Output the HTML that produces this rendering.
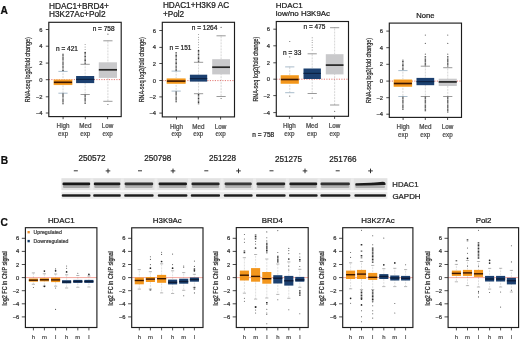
<!DOCTYPE html>
<html><head><meta charset="utf-8"><style>
html,body{margin:0;padding:0;background:#fff;}
body{width:520px;height:341px;overflow:hidden;}
svg{display:block;font-family:"Liberation Sans", sans-serif;}
text{stroke-width:0.24px;stroke-linejoin:round;}
</style></head><body>
<svg width="520" height="341" viewBox="0 0 520 341">
<defs><filter id="soft" x="0" y="0" width="100%" height="100%"><feGaussianBlur stdDeviation="0.3"/></filter></defs>
<g filter="url(#soft)">
<rect x="0" y="0" width="520" height="341" fill="#fff"/>
<text x="0.60" y="13.60" font-size="10.2" text-anchor="start" fill="#111" stroke="#111" font-weight="bold" >A</text>
<text x="0.80" y="164.30" font-size="10.2" text-anchor="start" fill="#111" stroke="#111" font-weight="bold" >B</text>
<text x="0.60" y="225.60" font-size="10.2" text-anchor="start" fill="#111" stroke="#111" font-weight="bold" >C</text>
<text x="49.00" y="8.50" font-size="8.3" text-anchor="start" fill="#1a1a1a" stroke="#1a1a1a" font-weight="normal" >HDAC1+BRD4+</text>
<text x="49.00" y="16.90" font-size="8.3" text-anchor="start" fill="#1a1a1a" stroke="#1a1a1a" font-weight="normal" >H3K27Ac+Pol2</text>
<text x="0" y="0" font-size="7.0" text-anchor="middle" fill="#2a2a2a" stroke="#2a2a2a" transform="translate(30.20,69.65) rotate(-90)" textLength="65" lengthAdjust="spacingAndGlyphs">RNA-seq log2(fold change)</text>
<line x1="45.80" y1="29.50" x2="48.80" y2="29.50" stroke="#1e1e1e" stroke-width="0.8"/>
<text x="42.60" y="31.58" font-size="5.8" text-anchor="end" fill="#333" stroke="#333" font-weight="normal" >6</text>
<line x1="45.80" y1="46.20" x2="48.80" y2="46.20" stroke="#1e1e1e" stroke-width="0.8"/>
<text x="42.60" y="48.28" font-size="5.8" text-anchor="end" fill="#333" stroke="#333" font-weight="normal" >4</text>
<line x1="45.80" y1="63.10" x2="48.80" y2="63.10" stroke="#1e1e1e" stroke-width="0.8"/>
<text x="42.60" y="65.18" font-size="5.8" text-anchor="end" fill="#333" stroke="#333" font-weight="normal" >2</text>
<line x1="45.80" y1="79.70" x2="48.80" y2="79.70" stroke="#1e1e1e" stroke-width="0.8"/>
<text x="42.60" y="81.78" font-size="5.8" text-anchor="end" fill="#333" stroke="#333" font-weight="normal" >0</text>
<line x1="45.80" y1="96.80" x2="48.80" y2="96.80" stroke="#1e1e1e" stroke-width="0.8"/>
<text x="42.60" y="98.88" font-size="5.8" text-anchor="end" fill="#333" stroke="#333" font-weight="normal" >−2</text>
<line x1="45.80" y1="113.00" x2="48.80" y2="113.00" stroke="#1e1e1e" stroke-width="0.8"/>
<text x="42.60" y="115.08" font-size="5.8" text-anchor="end" fill="#333" stroke="#333" font-weight="normal" >−4</text>
<line x1="63.10" y1="116.60" x2="63.10" y2="119.20" stroke="#1e1e1e" stroke-width="0.8"/>
<line x1="85.30" y1="116.60" x2="85.30" y2="119.20" stroke="#1e1e1e" stroke-width="0.8"/>
<line x1="107.60" y1="116.60" x2="107.60" y2="119.20" stroke="#1e1e1e" stroke-width="0.8"/>
<text x="63.10" y="128.30" font-size="6.3" text-anchor="middle" fill="#4a4a4a" stroke="#4a4a4a" font-weight="normal" >High</text>
<text x="63.10" y="135.80" font-size="6.3" text-anchor="middle" fill="#4a4a4a" stroke="#4a4a4a" font-weight="normal" >exp</text>
<text x="85.30" y="128.30" font-size="6.3" text-anchor="middle" fill="#4a4a4a" stroke="#4a4a4a" font-weight="normal" >Med</text>
<text x="85.30" y="135.80" font-size="6.3" text-anchor="middle" fill="#4a4a4a" stroke="#4a4a4a" font-weight="normal" >exp</text>
<text x="107.60" y="128.30" font-size="6.3" text-anchor="middle" fill="#4a4a4a" stroke="#4a4a4a" font-weight="normal" >Low</text>
<text x="107.60" y="135.80" font-size="6.3" text-anchor="middle" fill="#4a4a4a" stroke="#4a4a4a" font-weight="normal" >exp</text>
<line x1="48.80" y1="79.60" x2="121.20" y2="79.60" stroke="#d9403a" stroke-width="0.7" stroke-dasharray="1.2 1.3"/>
<line x1="63.00" y1="71.40" x2="63.00" y2="79.80" stroke="#777" stroke-width="0.5" stroke-dasharray="0.6 0.9"/>
<line x1="63.00" y1="84.80" x2="63.00" y2="93.20" stroke="#777" stroke-width="0.5" stroke-dasharray="0.6 0.9"/>
<line x1="58.40" y1="71.40" x2="67.60" y2="71.40" stroke="#6f8ea8" stroke-width="0.6"/>
<line x1="58.40" y1="93.20" x2="67.60" y2="93.20" stroke="#6f8ea8" stroke-width="0.6"/>
<line x1="63.00" y1="53.80" x2="63.00" y2="71.00" stroke="#262626" stroke-width="1.45" stroke-dasharray="0.9 0.45" stroke-opacity="0.9"/>
<line x1="63.00" y1="93.50" x2="63.00" y2="104.50" stroke="#262626" stroke-width="1.45" stroke-dasharray="0.9 0.45" stroke-opacity="0.9"/>
<rect x="53.60" y="79.50" width="18.80" height="5.60" fill="#f9c060" />
<rect x="53.90" y="79.80" width="18.20" height="5.00" fill="#f3961c" />
<rect x="53.90" y="81.50" width="18.20" height="1.60" fill="#3b1604" />
<line x1="85.15" y1="64.30" x2="85.15" y2="76.00" stroke="#777" stroke-width="0.5" stroke-dasharray="0.6 0.9"/>
<line x1="85.15" y1="83.10" x2="85.15" y2="94.50" stroke="#777" stroke-width="0.5" stroke-dasharray="0.6 0.9"/>
<line x1="80.55" y1="64.30" x2="89.75" y2="64.30" stroke="#555" stroke-width="0.6"/>
<line x1="80.55" y1="94.50" x2="89.75" y2="94.50" stroke="#555" stroke-width="0.6"/>
<circle cx="85.15" cy="44.60" r="0.5" fill="#777" fill-opacity="0.9"/>
<circle cx="85.15" cy="47.07" r="0.5" fill="#777" fill-opacity="0.9"/>
<circle cx="85.15" cy="49.53" r="0.5" fill="#777" fill-opacity="0.9"/>
<circle cx="85.15" cy="52.00" r="0.5" fill="#777" fill-opacity="0.9"/>
<line x1="85.15" y1="52.00" x2="85.15" y2="64.00" stroke="#262626" stroke-width="1.45" stroke-dasharray="0.9 0.45" stroke-opacity="0.9"/>
<line x1="85.15" y1="94.80" x2="85.15" y2="103.70" stroke="#262626" stroke-width="1.45" stroke-dasharray="0.9 0.45" stroke-opacity="0.9"/>
<rect x="76.10" y="76.00" width="18.10" height="7.10" fill="#1b416f" />
<rect x="76.10" y="78.80" width="18.10" height="1.20" fill="#0f2445" />
<line x1="107.90" y1="40.80" x2="107.90" y2="62.30" stroke="#777" stroke-width="0.5" stroke-dasharray="0.6 0.9"/>
<line x1="107.90" y1="77.90" x2="107.90" y2="101.30" stroke="#777" stroke-width="0.5" stroke-dasharray="0.6 0.9"/>
<line x1="103.30" y1="40.80" x2="112.50" y2="40.80" stroke="#555" stroke-width="0.6"/>
<line x1="103.30" y1="101.30" x2="112.50" y2="101.30" stroke="#555" stroke-width="0.6"/>
<circle cx="107.90" cy="34.20" r="0.6" fill="#666"/>
<circle cx="107.90" cy="104.50" r="0.6" fill="#666"/>
<rect x="98.80" y="62.30" width="18.20" height="15.60" fill="#c9c9cb" />
<rect x="98.80" y="68.95" width="18.20" height="1.70" fill="#262626" />
<text x="56.10" y="51.00" font-size="6.5" text-anchor="start" fill="#222" stroke="#222" font-weight="normal" >n = 421</text>
<text x="92.70" y="30.50" font-size="6.5" text-anchor="start" fill="#222" stroke="#222" font-weight="normal" >n = 758</text>
<rect x="48.80" y="22.30" width="72.40" height="94.30" fill="none" stroke="#1e1e1e" stroke-width="1.15"/>
<text x="162.90" y="8.20" font-size="8.2" text-anchor="start" fill="#1a1a1a" stroke="#1a1a1a" font-weight="normal" >HDAC1+H3K9 AC</text>
<text x="162.90" y="16.90" font-size="8.2" text-anchor="start" fill="#1a1a1a" stroke="#1a1a1a" font-weight="normal" >+Pol2</text>
<text x="0" y="0" font-size="7.0" text-anchor="middle" fill="#2a2a2a" stroke="#2a2a2a" transform="translate(143.70,69.80) rotate(-90)" textLength="65" lengthAdjust="spacingAndGlyphs">RNA-seq log2(fold change)</text>
<line x1="159.30" y1="30.50" x2="162.30" y2="30.50" stroke="#1e1e1e" stroke-width="0.8"/>
<text x="156.10" y="32.58" font-size="5.8" text-anchor="end" fill="#333" stroke="#333" font-weight="normal" >6</text>
<line x1="159.30" y1="47.40" x2="162.30" y2="47.40" stroke="#1e1e1e" stroke-width="0.8"/>
<text x="156.10" y="49.48" font-size="5.8" text-anchor="end" fill="#333" stroke="#333" font-weight="normal" >4</text>
<line x1="159.30" y1="63.50" x2="162.30" y2="63.50" stroke="#1e1e1e" stroke-width="0.8"/>
<text x="156.10" y="65.58" font-size="5.8" text-anchor="end" fill="#333" stroke="#333" font-weight="normal" >2</text>
<line x1="159.30" y1="80.50" x2="162.30" y2="80.50" stroke="#1e1e1e" stroke-width="0.8"/>
<text x="156.10" y="82.58" font-size="5.8" text-anchor="end" fill="#333" stroke="#333" font-weight="normal" >0</text>
<line x1="159.30" y1="96.90" x2="162.30" y2="96.90" stroke="#1e1e1e" stroke-width="0.8"/>
<text x="156.10" y="98.98" font-size="5.8" text-anchor="end" fill="#333" stroke="#333" font-weight="normal" >−2</text>
<line x1="159.30" y1="113.10" x2="162.30" y2="113.10" stroke="#1e1e1e" stroke-width="0.8"/>
<text x="156.10" y="115.18" font-size="5.8" text-anchor="end" fill="#333" stroke="#333" font-weight="normal" >−4</text>
<line x1="176.50" y1="116.90" x2="176.50" y2="119.50" stroke="#1e1e1e" stroke-width="0.8"/>
<line x1="198.30" y1="116.90" x2="198.30" y2="119.50" stroke="#1e1e1e" stroke-width="0.8"/>
<line x1="220.60" y1="116.90" x2="220.60" y2="119.50" stroke="#1e1e1e" stroke-width="0.8"/>
<text x="176.50" y="128.60" font-size="6.3" text-anchor="middle" fill="#4a4a4a" stroke="#4a4a4a" font-weight="normal" >High</text>
<text x="176.50" y="136.10" font-size="6.3" text-anchor="middle" fill="#4a4a4a" stroke="#4a4a4a" font-weight="normal" >exp</text>
<text x="198.30" y="128.60" font-size="6.3" text-anchor="middle" fill="#4a4a4a" stroke="#4a4a4a" font-weight="normal" >Med</text>
<text x="198.30" y="136.10" font-size="6.3" text-anchor="middle" fill="#4a4a4a" stroke="#4a4a4a" font-weight="normal" >exp</text>
<text x="220.60" y="128.60" font-size="6.3" text-anchor="middle" fill="#4a4a4a" stroke="#4a4a4a" font-weight="normal" >Low</text>
<text x="220.60" y="136.10" font-size="6.3" text-anchor="middle" fill="#4a4a4a" stroke="#4a4a4a" font-weight="normal" >exp</text>
<line x1="162.30" y1="80.60" x2="234.50" y2="80.60" stroke="#d9403a" stroke-width="0.7" stroke-dasharray="1.2 1.3"/>
<line x1="176.15" y1="71.10" x2="176.15" y2="78.70" stroke="#777" stroke-width="0.5" stroke-dasharray="0.6 0.9"/>
<line x1="176.15" y1="83.50" x2="176.15" y2="91.10" stroke="#777" stroke-width="0.5" stroke-dasharray="0.6 0.9"/>
<line x1="171.55" y1="71.10" x2="180.75" y2="71.10" stroke="#6f8ea8" stroke-width="0.6"/>
<line x1="171.55" y1="91.10" x2="180.75" y2="91.10" stroke="#6f8ea8" stroke-width="0.6"/>
<line x1="176.15" y1="52.30" x2="176.15" y2="71.00" stroke="#262626" stroke-width="1.45" stroke-dasharray="0.9 0.45" stroke-opacity="0.9"/>
<line x1="176.15" y1="91.50" x2="176.15" y2="102.50" stroke="#262626" stroke-width="1.45" stroke-dasharray="0.9 0.45" stroke-opacity="0.9"/>
<rect x="166.60" y="78.40" width="19.10" height="5.40" fill="#f9c060" />
<rect x="166.90" y="78.70" width="18.50" height="4.80" fill="#f3961c" />
<rect x="166.90" y="80.30" width="18.50" height="1.60" fill="#3b1604" />
<line x1="198.55" y1="62.30" x2="198.55" y2="74.70" stroke="#777" stroke-width="0.5" stroke-dasharray="0.6 0.9"/>
<line x1="198.55" y1="81.60" x2="198.55" y2="93.70" stroke="#777" stroke-width="0.5" stroke-dasharray="0.6 0.9"/>
<line x1="193.95" y1="62.30" x2="203.15" y2="62.30" stroke="#555" stroke-width="0.6"/>
<line x1="193.95" y1="93.70" x2="203.15" y2="93.70" stroke="#555" stroke-width="0.6"/>
<circle cx="198.55" cy="34.60" r="0.5" fill="#777" fill-opacity="0.9"/>
<circle cx="198.55" cy="37.17" r="0.5" fill="#777" fill-opacity="0.9"/>
<circle cx="198.55" cy="39.73" r="0.5" fill="#777" fill-opacity="0.9"/>
<circle cx="198.55" cy="42.30" r="0.5" fill="#777" fill-opacity="0.9"/>
<circle cx="198.55" cy="44.87" r="0.5" fill="#777" fill-opacity="0.9"/>
<circle cx="198.55" cy="47.43" r="0.5" fill="#777" fill-opacity="0.9"/>
<circle cx="198.55" cy="50.00" r="0.5" fill="#777" fill-opacity="0.9"/>
<line x1="198.55" y1="50.00" x2="198.55" y2="62.00" stroke="#262626" stroke-width="1.45" stroke-dasharray="0.9 0.45" stroke-opacity="0.9"/>
<line x1="198.55" y1="94.00" x2="198.55" y2="104.50" stroke="#262626" stroke-width="1.45" stroke-dasharray="0.9 0.45" stroke-opacity="0.9"/>
<rect x="189.90" y="74.70" width="17.30" height="6.90" fill="#1b416f" />
<rect x="189.90" y="78.00" width="17.30" height="1.20" fill="#0f2445" />
<line x1="221.10" y1="35.80" x2="221.10" y2="59.20" stroke="#777" stroke-width="0.5" stroke-dasharray="0.6 0.9"/>
<line x1="221.10" y1="74.40" x2="221.10" y2="96.50" stroke="#777" stroke-width="0.5" stroke-dasharray="0.6 0.9"/>
<line x1="216.50" y1="35.80" x2="225.70" y2="35.80" stroke="#555" stroke-width="0.6"/>
<line x1="216.50" y1="96.50" x2="225.70" y2="96.50" stroke="#555" stroke-width="0.6"/>
<circle cx="221.10" cy="27.40" r="0.6" fill="#666"/>
<circle cx="221.10" cy="98.50" r="0.6" fill="#666"/>
<rect x="212.20" y="59.20" width="17.80" height="15.20" fill="#c9c9cb" />
<rect x="212.20" y="66.35" width="17.80" height="1.70" fill="#262626" />
<text x="169.50" y="49.90" font-size="6.5" text-anchor="start" fill="#222" stroke="#222" font-weight="normal" >n = 151</text>
<text x="191.80" y="30.20" font-size="6.5" text-anchor="start" fill="#222" stroke="#222" font-weight="normal" >n = 1264</text>
<rect x="162.30" y="22.30" width="72.20" height="94.60" fill="none" stroke="#1e1e1e" stroke-width="1.15"/>
<text x="275.80" y="8.00" font-size="7.95" text-anchor="start" fill="#1a1a1a" stroke="#1a1a1a" font-weight="normal" >HDAC1</text>
<text x="275.80" y="16.30" font-size="7.95" text-anchor="start" fill="#1a1a1a" stroke="#1a1a1a" font-weight="normal" >low/no H3K9Ac</text>
<text x="0" y="0" font-size="7.0" text-anchor="middle" fill="#2a2a2a" stroke="#2a2a2a" transform="translate(257.70,69.10) rotate(-90)" textLength="65" lengthAdjust="spacingAndGlyphs">RNA-seq log2(fold change)</text>
<line x1="273.30" y1="29.20" x2="276.30" y2="29.20" stroke="#1e1e1e" stroke-width="0.8"/>
<text x="270.10" y="31.28" font-size="5.8" text-anchor="end" fill="#333" stroke="#333" font-weight="normal" >6</text>
<line x1="273.30" y1="45.80" x2="276.30" y2="45.80" stroke="#1e1e1e" stroke-width="0.8"/>
<text x="270.10" y="47.88" font-size="5.8" text-anchor="end" fill="#333" stroke="#333" font-weight="normal" >4</text>
<line x1="273.30" y1="62.80" x2="276.30" y2="62.80" stroke="#1e1e1e" stroke-width="0.8"/>
<text x="270.10" y="64.88" font-size="5.8" text-anchor="end" fill="#333" stroke="#333" font-weight="normal" >2</text>
<line x1="273.30" y1="79.20" x2="276.30" y2="79.20" stroke="#1e1e1e" stroke-width="0.8"/>
<text x="270.10" y="81.28" font-size="5.8" text-anchor="end" fill="#333" stroke="#333" font-weight="normal" >0</text>
<line x1="273.30" y1="95.60" x2="276.30" y2="95.60" stroke="#1e1e1e" stroke-width="0.8"/>
<text x="270.10" y="97.68" font-size="5.8" text-anchor="end" fill="#333" stroke="#333" font-weight="normal" >−2</text>
<line x1="273.30" y1="112.60" x2="276.30" y2="112.60" stroke="#1e1e1e" stroke-width="0.8"/>
<text x="270.10" y="114.68" font-size="5.8" text-anchor="end" fill="#333" stroke="#333" font-weight="normal" >−4</text>
<line x1="289.40" y1="116.30" x2="289.40" y2="118.90" stroke="#1e1e1e" stroke-width="0.8"/>
<line x1="312.00" y1="116.30" x2="312.00" y2="118.90" stroke="#1e1e1e" stroke-width="0.8"/>
<line x1="334.60" y1="116.30" x2="334.60" y2="118.90" stroke="#1e1e1e" stroke-width="0.8"/>
<text x="289.40" y="128.00" font-size="6.3" text-anchor="middle" fill="#4a4a4a" stroke="#4a4a4a" font-weight="normal" >High</text>
<text x="289.40" y="135.50" font-size="6.3" text-anchor="middle" fill="#4a4a4a" stroke="#4a4a4a" font-weight="normal" >exp</text>
<text x="312.00" y="128.00" font-size="6.3" text-anchor="middle" fill="#4a4a4a" stroke="#4a4a4a" font-weight="normal" >Med</text>
<text x="312.00" y="135.50" font-size="6.3" text-anchor="middle" fill="#4a4a4a" stroke="#4a4a4a" font-weight="normal" >exp</text>
<text x="334.60" y="128.00" font-size="6.3" text-anchor="middle" fill="#4a4a4a" stroke="#4a4a4a" font-weight="normal" >Low</text>
<text x="334.60" y="135.50" font-size="6.3" text-anchor="middle" fill="#4a4a4a" stroke="#4a4a4a" font-weight="normal" >exp</text>
<line x1="276.30" y1="79.20" x2="348.50" y2="79.20" stroke="#d9403a" stroke-width="0.7" stroke-dasharray="1.2 1.3"/>
<line x1="289.75" y1="66.90" x2="289.75" y2="75.50" stroke="#777" stroke-width="0.5" stroke-dasharray="0.6 0.9"/>
<line x1="289.75" y1="83.50" x2="289.75" y2="92.70" stroke="#777" stroke-width="0.5" stroke-dasharray="0.6 0.9"/>
<line x1="285.15" y1="66.90" x2="294.35" y2="66.90" stroke="#6f8ea8" stroke-width="0.6"/>
<line x1="285.15" y1="92.70" x2="294.35" y2="92.70" stroke="#6f8ea8" stroke-width="0.6"/>
<circle cx="289.75" cy="41.50" r="0.6" fill="#666"/>
<circle cx="289.75" cy="56.90" r="0.6" fill="#666"/>
<circle cx="289.75" cy="96.10" r="0.6" fill="#666"/>
<rect x="280.60" y="75.20" width="18.30" height="8.60" fill="#f9c060" />
<rect x="280.90" y="75.50" width="17.70" height="8.00" fill="#f3961c" />
<rect x="280.90" y="78.70" width="17.70" height="1.60" fill="#3b1604" />
<line x1="312.20" y1="53.80" x2="312.20" y2="68.50" stroke="#777" stroke-width="0.5" stroke-dasharray="0.6 0.9"/>
<line x1="312.20" y1="79.00" x2="312.20" y2="93.50" stroke="#777" stroke-width="0.5" stroke-dasharray="0.6 0.9"/>
<line x1="307.60" y1="53.80" x2="316.80" y2="53.80" stroke="#555" stroke-width="0.6"/>
<line x1="307.60" y1="93.50" x2="316.80" y2="93.50" stroke="#555" stroke-width="0.6"/>
<circle cx="312.20" cy="37.70" r="0.5" fill="#777" fill-opacity="0.9"/>
<circle cx="312.20" cy="40.16" r="0.5" fill="#777" fill-opacity="0.9"/>
<circle cx="312.20" cy="42.62" r="0.5" fill="#777" fill-opacity="0.9"/>
<circle cx="312.20" cy="45.08" r="0.5" fill="#777" fill-opacity="0.9"/>
<circle cx="312.20" cy="47.54" r="0.5" fill="#777" fill-opacity="0.9"/>
<circle cx="312.20" cy="50.00" r="0.5" fill="#777" fill-opacity="0.9"/>
<circle cx="312.20" cy="98.00" r="0.6" fill="#666"/>
<rect x="303.50" y="68.50" width="17.40" height="10.50" fill="#1b416f" />
<rect x="303.50" y="72.80" width="17.40" height="1.20" fill="#0f2445" />
<line x1="334.65" y1="27.70" x2="334.65" y2="54.20" stroke="#777" stroke-width="0.5" stroke-dasharray="0.6 0.9"/>
<line x1="334.65" y1="74.40" x2="334.65" y2="105.00" stroke="#777" stroke-width="0.5" stroke-dasharray="0.6 0.9"/>
<line x1="330.05" y1="27.70" x2="339.25" y2="27.70" stroke="#555" stroke-width="0.6"/>
<line x1="330.05" y1="105.00" x2="339.25" y2="105.00" stroke="#555" stroke-width="0.6"/>
<circle cx="334.65" cy="111.30" r="0.6" fill="#666"/>
<rect x="325.80" y="54.20" width="17.70" height="20.20" fill="#c9c9cb" />
<rect x="325.80" y="64.25" width="17.70" height="1.70" fill="#262626" />
<text x="283.10" y="54.50" font-size="6.5" text-anchor="start" fill="#222" stroke="#222" font-weight="normal" >n = 33</text>
<text x="303.50" y="29.00" font-size="6.5" text-anchor="start" fill="#222" stroke="#222" font-weight="normal" >n = 475</text>
<rect x="276.30" y="21.50" width="72.20" height="94.80" fill="none" stroke="#1e1e1e" stroke-width="1.15"/>
<text x="425.30" y="18.30" font-size="7.6" text-anchor="middle" fill="#1a1a1a" stroke="#1a1a1a" font-weight="normal" >None</text>
<text x="0" y="0" font-size="7.0" text-anchor="middle" fill="#2a2a2a" stroke="#2a2a2a" transform="translate(370.70,70.45) rotate(-90)" textLength="65" lengthAdjust="spacingAndGlyphs">RNA-seq log2(fold change)</text>
<line x1="386.30" y1="31.10" x2="389.30" y2="31.10" stroke="#1e1e1e" stroke-width="0.8"/>
<text x="383.10" y="33.18" font-size="5.8" text-anchor="end" fill="#333" stroke="#333" font-weight="normal" >6</text>
<line x1="386.30" y1="47.70" x2="389.30" y2="47.70" stroke="#1e1e1e" stroke-width="0.8"/>
<text x="383.10" y="49.78" font-size="5.8" text-anchor="end" fill="#333" stroke="#333" font-weight="normal" >4</text>
<line x1="386.30" y1="64.30" x2="389.30" y2="64.30" stroke="#1e1e1e" stroke-width="0.8"/>
<text x="383.10" y="66.38" font-size="5.8" text-anchor="end" fill="#333" stroke="#333" font-weight="normal" >2</text>
<line x1="386.30" y1="81.10" x2="389.30" y2="81.10" stroke="#1e1e1e" stroke-width="0.8"/>
<text x="383.10" y="83.18" font-size="5.8" text-anchor="end" fill="#333" stroke="#333" font-weight="normal" >0</text>
<line x1="386.30" y1="97.70" x2="389.30" y2="97.70" stroke="#1e1e1e" stroke-width="0.8"/>
<text x="383.10" y="99.78" font-size="5.8" text-anchor="end" fill="#333" stroke="#333" font-weight="normal" >−2</text>
<line x1="386.30" y1="114.20" x2="389.30" y2="114.20" stroke="#1e1e1e" stroke-width="0.8"/>
<text x="383.10" y="116.28" font-size="5.8" text-anchor="end" fill="#333" stroke="#333" font-weight="normal" >−4</text>
<line x1="403.10" y1="117.40" x2="403.10" y2="120.00" stroke="#1e1e1e" stroke-width="0.8"/>
<line x1="425.30" y1="117.40" x2="425.30" y2="120.00" stroke="#1e1e1e" stroke-width="0.8"/>
<line x1="447.60" y1="117.40" x2="447.60" y2="120.00" stroke="#1e1e1e" stroke-width="0.8"/>
<text x="403.10" y="129.10" font-size="6.3" text-anchor="middle" fill="#4a4a4a" stroke="#4a4a4a" font-weight="normal" >High</text>
<text x="403.10" y="136.60" font-size="6.3" text-anchor="middle" fill="#4a4a4a" stroke="#4a4a4a" font-weight="normal" >exp</text>
<text x="425.30" y="129.10" font-size="6.3" text-anchor="middle" fill="#4a4a4a" stroke="#4a4a4a" font-weight="normal" >Med</text>
<text x="425.30" y="136.60" font-size="6.3" text-anchor="middle" fill="#4a4a4a" stroke="#4a4a4a" font-weight="normal" >exp</text>
<text x="447.60" y="129.10" font-size="6.3" text-anchor="middle" fill="#4a4a4a" stroke="#4a4a4a" font-weight="normal" >Low</text>
<text x="447.60" y="136.60" font-size="6.3" text-anchor="middle" fill="#4a4a4a" stroke="#4a4a4a" font-weight="normal" >exp</text>
<line x1="389.30" y1="81.10" x2="461.50" y2="81.10" stroke="#d9403a" stroke-width="0.7" stroke-dasharray="1.2 1.3"/>
<line x1="402.90" y1="70.60" x2="402.90" y2="79.80" stroke="#777" stroke-width="0.5" stroke-dasharray="0.6 0.9"/>
<line x1="402.90" y1="86.50" x2="402.90" y2="96.50" stroke="#777" stroke-width="0.5" stroke-dasharray="0.6 0.9"/>
<line x1="398.30" y1="70.60" x2="407.50" y2="70.60" stroke="#6f8ea8" stroke-width="0.6"/>
<line x1="398.30" y1="96.50" x2="407.50" y2="96.50" stroke="#6f8ea8" stroke-width="0.6"/>
<line x1="402.90" y1="59.70" x2="402.90" y2="70.00" stroke="#262626" stroke-width="1.45" stroke-dasharray="0.9 0.45" stroke-opacity="0.9"/>
<line x1="402.90" y1="96.80" x2="402.90" y2="110.20" stroke="#262626" stroke-width="1.45" stroke-dasharray="0.9 0.45" stroke-opacity="0.9"/>
<rect x="393.60" y="79.50" width="18.60" height="7.30" fill="#f9c060" />
<rect x="393.90" y="79.80" width="18.00" height="6.70" fill="#f3961c" />
<rect x="393.90" y="82.70" width="18.00" height="1.60" fill="#3b1604" />
<line x1="425.35" y1="66.20" x2="425.35" y2="77.90" stroke="#777" stroke-width="0.5" stroke-dasharray="0.6 0.9"/>
<line x1="425.35" y1="85.20" x2="425.35" y2="96.50" stroke="#777" stroke-width="0.5" stroke-dasharray="0.6 0.9"/>
<line x1="420.75" y1="66.20" x2="429.95" y2="66.20" stroke="#555" stroke-width="0.6"/>
<line x1="420.75" y1="96.50" x2="429.95" y2="96.50" stroke="#555" stroke-width="0.6"/>
<circle cx="425.35" cy="35.10" r="0.6" fill="#666"/>
<circle cx="425.35" cy="43.40" r="0.6" fill="#666"/>
<circle cx="425.35" cy="54.20" r="0.6" fill="#666"/>
<line x1="425.35" y1="56.20" x2="425.35" y2="66.00" stroke="#262626" stroke-width="1.45" stroke-dasharray="0.9 0.45" stroke-opacity="0.9"/>
<line x1="425.35" y1="96.80" x2="425.35" y2="111.80" stroke="#262626" stroke-width="1.45" stroke-dasharray="0.9 0.45" stroke-opacity="0.9"/>
<rect x="416.50" y="77.90" width="17.70" height="7.30" fill="#1b416f" />
<rect x="416.50" y="81.00" width="17.70" height="1.20" fill="#0f2445" />
<line x1="447.75" y1="67.70" x2="447.75" y2="78.70" stroke="#777" stroke-width="0.5" stroke-dasharray="0.6 0.9"/>
<line x1="447.75" y1="86.00" x2="447.75" y2="96.50" stroke="#777" stroke-width="0.5" stroke-dasharray="0.6 0.9"/>
<line x1="443.15" y1="67.70" x2="452.35" y2="67.70" stroke="#555" stroke-width="0.6"/>
<line x1="443.15" y1="96.50" x2="452.35" y2="96.50" stroke="#555" stroke-width="0.6"/>
<circle cx="447.75" cy="35.10" r="0.6" fill="#666"/>
<circle cx="447.75" cy="43.40" r="0.6" fill="#666"/>
<circle cx="447.75" cy="54.20" r="0.6" fill="#666"/>
<line x1="447.75" y1="56.20" x2="447.75" y2="67.00" stroke="#262626" stroke-width="1.45" stroke-dasharray="0.9 0.45" stroke-opacity="0.9"/>
<line x1="447.75" y1="96.80" x2="447.75" y2="112.60" stroke="#262626" stroke-width="1.45" stroke-dasharray="0.9 0.45" stroke-opacity="0.9"/>
<rect x="438.70" y="78.70" width="18.10" height="7.30" fill="#c9c9cb" />
<rect x="438.70" y="81.05" width="18.10" height="1.70" fill="#262626" />
<rect x="389.30" y="23.10" width="72.20" height="94.30" fill="none" stroke="#1e1e1e" stroke-width="1.15"/>
<text x="252.30" y="136.50" font-size="6.5" text-anchor="start" fill="#222" stroke="#222" font-weight="normal" >n = 758</text>
<text x="92.10" y="161.10" font-size="8.15" text-anchor="middle" fill="#222" stroke="#222" font-weight="normal" >250572</text>
<text x="157.70" y="161.10" font-size="8.15" text-anchor="middle" fill="#222" stroke="#222" font-weight="normal" >250798</text>
<text x="222.50" y="161.10" font-size="8.15" text-anchor="middle" fill="#222" stroke="#222" font-weight="normal" >251228</text>
<text x="288.60" y="161.60" font-size="8.15" text-anchor="middle" fill="#222" stroke="#222" font-weight="normal" >251275</text>
<text x="342.90" y="162.40" font-size="8.15" text-anchor="middle" fill="#222" stroke="#222" font-weight="normal" >251766</text>
<line x1="73.80" y1="170.80" x2="77.80" y2="170.80" stroke="#2a2a2a" stroke-width="0.95"/>
<line x1="105.70" y1="170.90" x2="110.30" y2="170.90" stroke="#2a2a2a" stroke-width="0.95"/>
<line x1="108.00" y1="168.60" x2="108.00" y2="173.20" stroke="#2a2a2a" stroke-width="0.95"/>
<line x1="138.00" y1="170.80" x2="142.00" y2="170.80" stroke="#2a2a2a" stroke-width="0.95"/>
<line x1="170.70" y1="170.90" x2="175.30" y2="170.90" stroke="#2a2a2a" stroke-width="0.95"/>
<line x1="173.00" y1="168.60" x2="173.00" y2="173.20" stroke="#2a2a2a" stroke-width="0.95"/>
<line x1="204.30" y1="170.80" x2="208.30" y2="170.80" stroke="#2a2a2a" stroke-width="0.95"/>
<line x1="236.20" y1="170.90" x2="240.80" y2="170.90" stroke="#2a2a2a" stroke-width="0.95"/>
<line x1="238.50" y1="168.60" x2="238.50" y2="173.20" stroke="#2a2a2a" stroke-width="0.95"/>
<line x1="269.50" y1="170.80" x2="273.50" y2="170.80" stroke="#2a2a2a" stroke-width="0.95"/>
<line x1="302.70" y1="170.90" x2="307.30" y2="170.90" stroke="#2a2a2a" stroke-width="0.95"/>
<line x1="305.00" y1="168.60" x2="305.00" y2="173.20" stroke="#2a2a2a" stroke-width="0.95"/>
<line x1="335.70" y1="170.80" x2="339.70" y2="170.80" stroke="#2a2a2a" stroke-width="0.95"/>
<line x1="368.20" y1="170.90" x2="372.80" y2="170.90" stroke="#2a2a2a" stroke-width="0.95"/>
<line x1="370.50" y1="168.60" x2="370.50" y2="173.20" stroke="#2a2a2a" stroke-width="0.95"/>
<text x="392.30" y="186.80" font-size="8.0" text-anchor="start" fill="#222" stroke="#222" font-weight="normal" textLength="26.2" lengthAdjust="spacingAndGlyphs">HDAC1</text>
<text x="392.40" y="198.70" font-size="8.1" text-anchor="start" fill="#222" stroke="#222" font-weight="normal" textLength="28.2" lengthAdjust="spacingAndGlyphs">GAPDH</text>
<defs><filter id="bl" x="-5%" y="-50%" width="110%" height="200%"><feGaussianBlur stdDeviation="0.55"/></filter><filter id="bl2" x="-5%" y="-50%" width="110%" height="200%"><feGaussianBlur stdDeviation="0.35"/></filter></defs>
<rect x="61.40" y="178.20" width="326.00" height="12.00" fill="#e2e2e2" />
<rect x="61.40" y="191.80" width="326.00" height="7.00" fill="#ebebeb" />
<rect x="90.30" y="178.20" width="3.00" height="12.00" fill="#ececec" />
<rect x="120.80" y="178.20" width="3.00" height="12.00" fill="#ececec" />
<rect x="154.50" y="178.20" width="3.00" height="12.00" fill="#ececec" />
<rect x="188.00" y="178.20" width="3.00" height="12.00" fill="#ececec" />
<rect x="220.50" y="178.20" width="3.00" height="12.00" fill="#ececec" />
<rect x="253.00" y="178.20" width="3.00" height="12.00" fill="#ececec" />
<rect x="285.80" y="178.20" width="3.00" height="12.00" fill="#ececec" />
<rect x="317.50" y="178.20" width="3.00" height="12.00" fill="#ececec" />
<rect x="350.80" y="178.20" width="3.00" height="12.00" fill="#ececec" />
<g filter="url(#bl)">
<rect x="62.50" y="182.60" width="27.70" height="2.70" fill="#0e0e0e" fill-opacity="0.95" rx="1.1"/>
<rect x="63.00" y="185.00" width="26.70" height="3.00" fill="#555" fill-opacity="0.40" rx="1"/>
<rect x="93.80" y="182.60" width="26.60" height="2.70" fill="#0e0e0e" fill-opacity="0.92" rx="1.1"/>
<rect x="94.30" y="185.00" width="25.60" height="3.00" fill="#555" fill-opacity="0.39" rx="1"/>
<rect x="124.60" y="182.60" width="28.60" height="2.70" fill="#0e0e0e" fill-opacity="0.84" rx="1.1"/>
<rect x="125.10" y="185.00" width="27.60" height="3.00" fill="#555" fill-opacity="0.35" rx="1"/>
<rect x="158.60" y="182.60" width="28.40" height="2.70" fill="#0e0e0e" fill-opacity="0.93" rx="1.1"/>
<rect x="159.10" y="185.00" width="27.40" height="3.00" fill="#555" fill-opacity="0.39" rx="1"/>
<rect x="191.50" y="182.60" width="28.10" height="2.70" fill="#0e0e0e" fill-opacity="0.88" rx="1.1"/>
<rect x="192.00" y="185.00" width="27.10" height="3.00" fill="#555" fill-opacity="0.37" rx="1"/>
<rect x="224.60" y="182.60" width="27.20" height="2.70" fill="#0e0e0e" fill-opacity="0.81" rx="1.1"/>
<rect x="225.10" y="185.00" width="26.20" height="3.00" fill="#555" fill-opacity="0.34" rx="1"/>
<rect x="256.50" y="182.60" width="28.70" height="2.70" fill="#0e0e0e" fill-opacity="0.88" rx="1.1"/>
<rect x="257.00" y="185.00" width="27.70" height="3.00" fill="#555" fill-opacity="0.37" rx="1"/>
<rect x="289.40" y="182.60" width="27.80" height="2.70" fill="#0e0e0e" fill-opacity="0.93" rx="1.1"/>
<rect x="289.90" y="185.00" width="26.80" height="3.00" fill="#555" fill-opacity="0.39" rx="1"/>
<rect x="320.50" y="182.60" width="29.40" height="2.70" fill="#0e0e0e" fill-opacity="0.84" rx="1.1"/>
<rect x="321.00" y="185.00" width="28.40" height="3.00" fill="#555" fill-opacity="0.35" rx="1"/>
<path d="M355.6,183.2 Q372.8,183.0 383.0,181.8 Q385.5,181.8 385.5,183.4 L385.5,184.9 Q372.8,185.3 355.6,185.7 Q354.8,184.5 355.6,183.2 Z" fill="#111" fill-opacity="0.92"/>
<rect x="355.30" y="185.40" width="29.70" height="2.60" fill="#555" fill-opacity="0.35" rx="1"/>
</g>
<g filter="url(#bl2)">
<rect x="61.80" y="194.20" width="28.70" height="2.50" fill="#0c0c0c" fill-opacity="0.92" rx="1"/>
<rect x="93.20" y="194.20" width="27.60" height="2.50" fill="#0c0c0c" fill-opacity="0.92" rx="1"/>
<rect x="124.20" y="194.20" width="29.40" height="2.50" fill="#0c0c0c" fill-opacity="0.92" rx="1"/>
<rect x="157.80" y="194.20" width="29.60" height="2.50" fill="#0c0c0c" fill-opacity="0.92" rx="1"/>
<rect x="190.80" y="194.20" width="29.20" height="2.50" fill="#0c0c0c" fill-opacity="0.92" rx="1"/>
<rect x="223.80" y="194.20" width="28.80" height="2.50" fill="#0c0c0c" fill-opacity="0.92" rx="1"/>
<rect x="256.00" y="194.20" width="29.60" height="2.50" fill="#0c0c0c" fill-opacity="0.92" rx="1"/>
<rect x="289.00" y="194.20" width="28.60" height="2.50" fill="#0c0c0c" fill-opacity="0.92" rx="1"/>
<rect x="320.40" y="194.20" width="30.00" height="2.50" fill="#0c0c0c" fill-opacity="0.92" rx="1"/>
<rect x="354.40" y="194.20" width="31.60" height="2.50" fill="#0c0c0c" fill-opacity="0.92" rx="1"/>
</g>
<text x="61.30" y="222.70" font-size="7.9" text-anchor="middle" fill="#1a1a1a" stroke="#1a1a1a" font-weight="normal" >HDAC1</text>
<text x="0" y="0" font-size="6.4" text-anchor="middle" fill="#2a2a2a" stroke="#2a2a2a" transform="translate(7.00,278.40) rotate(-90)" textLength="54.3" lengthAdjust="spacingAndGlyphs">log2 FC in ChIP signal</text>
<line x1="21.80" y1="238.30" x2="25.40" y2="238.30" stroke="#1e1e1e" stroke-width="0.8"/>
<text x="19.30" y="240.38" font-size="5.8" text-anchor="end" fill="#333" stroke="#333" font-weight="normal" >6</text>
<line x1="21.80" y1="251.40" x2="25.40" y2="251.40" stroke="#1e1e1e" stroke-width="0.8"/>
<text x="19.30" y="253.48" font-size="5.8" text-anchor="end" fill="#333" stroke="#333" font-weight="normal" >4</text>
<line x1="21.80" y1="264.50" x2="25.40" y2="264.50" stroke="#1e1e1e" stroke-width="0.8"/>
<text x="19.30" y="266.58" font-size="5.8" text-anchor="end" fill="#333" stroke="#333" font-weight="normal" >2</text>
<line x1="21.80" y1="277.60" x2="25.40" y2="277.60" stroke="#1e1e1e" stroke-width="0.8"/>
<text x="19.30" y="279.68" font-size="5.8" text-anchor="end" fill="#333" stroke="#333" font-weight="normal" >0</text>
<line x1="21.80" y1="290.70" x2="25.40" y2="290.70" stroke="#1e1e1e" stroke-width="0.8"/>
<text x="19.30" y="292.78" font-size="5.8" text-anchor="end" fill="#333" stroke="#333" font-weight="normal" >−2</text>
<line x1="21.80" y1="303.80" x2="25.40" y2="303.80" stroke="#1e1e1e" stroke-width="0.8"/>
<text x="19.30" y="305.88" font-size="5.8" text-anchor="end" fill="#333" stroke="#333" font-weight="normal" >−4</text>
<line x1="21.80" y1="316.90" x2="25.40" y2="316.90" stroke="#1e1e1e" stroke-width="0.8"/>
<text x="19.30" y="318.98" font-size="5.8" text-anchor="end" fill="#333" stroke="#333" font-weight="normal" >−6</text>
<line x1="25.40" y1="277.60" x2="96.90" y2="277.60" stroke="#ef8f86" stroke-width="0.8"/>
<line x1="33.40" y1="327.50" x2="33.40" y2="330.40" stroke="#1e1e1e" stroke-width="0.8"/>
<text x="33.40" y="339.40" font-size="5.9" text-anchor="middle" fill="#505050" stroke="#505050" font-weight="normal" >h</text>
<line x1="33.40" y1="272.90" x2="33.40" y2="278.50" stroke="#8a8a8a" stroke-width="0.45" stroke-dasharray="0.6 0.9"/>
<line x1="33.40" y1="281.70" x2="33.40" y2="284.30" stroke="#8a8a8a" stroke-width="0.45" stroke-dasharray="0.6 0.9"/>
<line x1="31.80" y1="272.90" x2="35.00" y2="272.90" stroke="#777" stroke-width="0.5"/>
<line x1="31.80" y1="284.30" x2="35.00" y2="284.30" stroke="#777" stroke-width="0.5"/>
<circle cx="33.40" cy="287.50" r="0.55" fill="#555"/>
<rect x="28.85" y="278.50" width="9.10" height="3.20" fill="#f3961c" />
<rect x="28.85" y="279.50" width="9.10" height="1.40" fill="#3a1604" />
<line x1="44.40" y1="327.50" x2="44.40" y2="330.40" stroke="#1e1e1e" stroke-width="0.8"/>
<text x="44.40" y="339.40" font-size="5.9" text-anchor="middle" fill="#505050" stroke="#505050" font-weight="normal" >m</text>
<line x1="44.40" y1="273.80" x2="44.40" y2="278.20" stroke="#8a8a8a" stroke-width="0.45" stroke-dasharray="0.6 0.9"/>
<line x1="44.40" y1="281.40" x2="44.40" y2="286.10" stroke="#8a8a8a" stroke-width="0.45" stroke-dasharray="0.6 0.9"/>
<line x1="42.80" y1="273.80" x2="46.00" y2="273.80" stroke="#777" stroke-width="0.5"/>
<line x1="42.80" y1="286.10" x2="46.00" y2="286.10" stroke="#777" stroke-width="0.5"/>
<circle cx="44.40" cy="271.10" r="0.85" fill="#222"/>
<circle cx="44.40" cy="286.30" r="0.85" fill="#222"/>
<rect x="39.85" y="278.20" width="9.10" height="3.20" fill="#f3961c" />
<rect x="39.85" y="279.10" width="9.10" height="1.40" fill="#3a1604" />
<line x1="55.60" y1="327.50" x2="55.60" y2="330.40" stroke="#1e1e1e" stroke-width="0.8"/>
<text x="55.60" y="339.40" font-size="5.9" text-anchor="middle" fill="#505050" stroke="#505050" font-weight="normal" >l</text>
<line x1="55.60" y1="274.00" x2="55.60" y2="277.70" stroke="#8a8a8a" stroke-width="0.45" stroke-dasharray="0.6 0.9"/>
<line x1="55.60" y1="282.10" x2="55.60" y2="286.20" stroke="#8a8a8a" stroke-width="0.45" stroke-dasharray="0.6 0.9"/>
<line x1="54.00" y1="274.00" x2="57.20" y2="274.00" stroke="#777" stroke-width="0.5"/>
<line x1="54.00" y1="286.20" x2="57.20" y2="286.20" stroke="#777" stroke-width="0.5"/>
<circle cx="55.60" cy="268.90" r="0.55" fill="#555"/>
<circle cx="55.60" cy="288.00" r="0.55" fill="#555"/>
<circle cx="55.60" cy="309.40" r="0.55" fill="#555"/>
<circle cx="55.60" cy="270.80" r="0.85" fill="#222"/>
<rect x="51.05" y="277.70" width="9.10" height="4.40" fill="#f3961c" />
<rect x="51.05" y="279.20" width="9.10" height="1.40" fill="#3a1604" />
<line x1="66.60" y1="327.50" x2="66.60" y2="330.40" stroke="#1e1e1e" stroke-width="0.8"/>
<text x="66.60" y="339.40" font-size="5.9" text-anchor="middle" fill="#505050" stroke="#505050" font-weight="normal" >h</text>
<line x1="66.60" y1="274.80" x2="66.60" y2="280.20" stroke="#8a8a8a" stroke-width="0.45" stroke-dasharray="0.6 0.9"/>
<line x1="66.60" y1="283.30" x2="66.60" y2="288.00" stroke="#8a8a8a" stroke-width="0.45" stroke-dasharray="0.6 0.9"/>
<line x1="65.00" y1="274.80" x2="68.20" y2="274.80" stroke="#777" stroke-width="0.5"/>
<line x1="65.00" y1="288.00" x2="68.20" y2="288.00" stroke="#777" stroke-width="0.5"/>
<circle cx="66.60" cy="266.00" r="0.55" fill="#555"/>
<circle cx="66.60" cy="268.20" r="0.55" fill="#555"/>
<circle cx="66.60" cy="271.90" r="0.85" fill="#222"/>
<rect x="62.05" y="280.20" width="9.10" height="3.10" fill="#1b416f" />
<rect x="62.05" y="281.30" width="9.10" height="1.40" fill="#0a1a38" />
<line x1="77.80" y1="327.50" x2="77.80" y2="330.40" stroke="#1e1e1e" stroke-width="0.8"/>
<text x="77.80" y="339.40" font-size="5.9" text-anchor="middle" fill="#505050" stroke="#505050" font-weight="normal" >m</text>
<line x1="77.80" y1="275.50" x2="77.80" y2="279.90" stroke="#8a8a8a" stroke-width="0.45" stroke-dasharray="0.6 0.9"/>
<line x1="77.80" y1="282.90" x2="77.80" y2="287.30" stroke="#8a8a8a" stroke-width="0.45" stroke-dasharray="0.6 0.9"/>
<line x1="76.20" y1="275.50" x2="79.40" y2="275.50" stroke="#777" stroke-width="0.5"/>
<line x1="76.20" y1="287.30" x2="79.40" y2="287.30" stroke="#777" stroke-width="0.5"/>
<circle cx="77.80" cy="273.30" r="0.55" fill="#555"/>
<rect x="73.25" y="279.90" width="9.10" height="3.00" fill="#1b416f" />
<rect x="73.25" y="280.80" width="9.10" height="1.40" fill="#0a1a38" />
<line x1="88.90" y1="327.50" x2="88.90" y2="330.40" stroke="#1e1e1e" stroke-width="0.8"/>
<text x="88.90" y="339.40" font-size="5.9" text-anchor="middle" fill="#505050" stroke="#505050" font-weight="normal" >l</text>
<line x1="88.90" y1="276.00" x2="88.90" y2="279.90" stroke="#8a8a8a" stroke-width="0.45" stroke-dasharray="0.6 0.9"/>
<line x1="88.90" y1="282.90" x2="88.90" y2="287.00" stroke="#8a8a8a" stroke-width="0.45" stroke-dasharray="0.6 0.9"/>
<line x1="87.30" y1="276.00" x2="90.50" y2="276.00" stroke="#777" stroke-width="0.5"/>
<line x1="87.30" y1="287.00" x2="90.50" y2="287.00" stroke="#777" stroke-width="0.5"/>
<circle cx="88.90" cy="274.40" r="0.85" fill="#222"/>
<rect x="84.35" y="279.90" width="9.10" height="3.00" fill="#1b416f" />
<rect x="84.35" y="280.80" width="9.10" height="1.40" fill="#0a1a38" />
<rect x="27.50" y="231.00" width="2.30" height="2.40" fill="#ea8f30" />
<rect x="27.50" y="239.90" width="2.30" height="2.40" fill="#123a66" />
<text x="33.60" y="233.80" font-size="5.2" text-anchor="start" fill="#444" stroke="#444" font-weight="normal" >Upregulated</text>
<text x="33.60" y="242.80" font-size="5.2" text-anchor="start" fill="#444" stroke="#444" font-weight="normal" >Downregulated</text>
<rect x="25.40" y="227.70" width="71.50" height="99.80" fill="none" stroke="#1e1e1e" stroke-width="1.15"/>
<text x="167.30" y="222.70" font-size="7.9" text-anchor="middle" fill="#1a1a1a" stroke="#1a1a1a" font-weight="normal" >H3K9Ac</text>
<text x="0" y="0" font-size="6.4" text-anchor="middle" fill="#2a2a2a" stroke="#2a2a2a" transform="translate(113.30,278.40) rotate(-90)" textLength="54.3" lengthAdjust="spacingAndGlyphs">log2 FC in ChIP signal</text>
<line x1="128.10" y1="238.30" x2="131.70" y2="238.30" stroke="#1e1e1e" stroke-width="0.8"/>
<text x="125.60" y="240.38" font-size="5.8" text-anchor="end" fill="#333" stroke="#333" font-weight="normal" >6</text>
<line x1="128.10" y1="251.40" x2="131.70" y2="251.40" stroke="#1e1e1e" stroke-width="0.8"/>
<text x="125.60" y="253.48" font-size="5.8" text-anchor="end" fill="#333" stroke="#333" font-weight="normal" >4</text>
<line x1="128.10" y1="264.50" x2="131.70" y2="264.50" stroke="#1e1e1e" stroke-width="0.8"/>
<text x="125.60" y="266.58" font-size="5.8" text-anchor="end" fill="#333" stroke="#333" font-weight="normal" >2</text>
<line x1="128.10" y1="277.60" x2="131.70" y2="277.60" stroke="#1e1e1e" stroke-width="0.8"/>
<text x="125.60" y="279.68" font-size="5.8" text-anchor="end" fill="#333" stroke="#333" font-weight="normal" >0</text>
<line x1="128.10" y1="290.70" x2="131.70" y2="290.70" stroke="#1e1e1e" stroke-width="0.8"/>
<text x="125.60" y="292.78" font-size="5.8" text-anchor="end" fill="#333" stroke="#333" font-weight="normal" >−2</text>
<line x1="128.10" y1="303.80" x2="131.70" y2="303.80" stroke="#1e1e1e" stroke-width="0.8"/>
<text x="125.60" y="305.88" font-size="5.8" text-anchor="end" fill="#333" stroke="#333" font-weight="normal" >−4</text>
<line x1="128.10" y1="316.90" x2="131.70" y2="316.90" stroke="#1e1e1e" stroke-width="0.8"/>
<text x="125.60" y="318.98" font-size="5.8" text-anchor="end" fill="#333" stroke="#333" font-weight="normal" >−6</text>
<line x1="131.70" y1="277.60" x2="203.00" y2="277.60" stroke="#ef8f86" stroke-width="0.8"/>
<line x1="139.30" y1="327.50" x2="139.30" y2="330.40" stroke="#1e1e1e" stroke-width="0.8"/>
<text x="139.30" y="339.40" font-size="5.9" text-anchor="middle" fill="#505050" stroke="#505050" font-weight="normal" >h</text>
<line x1="139.30" y1="269.60" x2="139.30" y2="277.50" stroke="#8a8a8a" stroke-width="0.45" stroke-dasharray="0.6 0.9"/>
<line x1="139.30" y1="284.30" x2="139.30" y2="289.10" stroke="#8a8a8a" stroke-width="0.45" stroke-dasharray="0.6 0.9"/>
<line x1="137.70" y1="269.60" x2="140.90" y2="269.60" stroke="#777" stroke-width="0.5"/>
<line x1="137.70" y1="289.10" x2="140.90" y2="289.10" stroke="#777" stroke-width="0.5"/>
<rect x="134.75" y="277.50" width="9.10" height="6.80" fill="#f3961c" />
<rect x="134.75" y="279.80" width="9.10" height="1.40" fill="#3a1604" />
<line x1="150.40" y1="327.50" x2="150.40" y2="330.40" stroke="#1e1e1e" stroke-width="0.8"/>
<text x="150.40" y="339.40" font-size="5.9" text-anchor="middle" fill="#505050" stroke="#505050" font-weight="normal" >m</text>
<line x1="150.40" y1="271.70" x2="150.40" y2="277.00" stroke="#8a8a8a" stroke-width="0.45" stroke-dasharray="0.6 0.9"/>
<line x1="150.40" y1="282.00" x2="150.40" y2="289.00" stroke="#8a8a8a" stroke-width="0.45" stroke-dasharray="0.6 0.9"/>
<line x1="148.80" y1="271.70" x2="152.00" y2="271.70" stroke="#777" stroke-width="0.5"/>
<line x1="148.80" y1="289.00" x2="152.00" y2="289.00" stroke="#777" stroke-width="0.5"/>
<circle cx="150.40" cy="256.70" r="0.55" fill="#555"/>
<circle cx="150.40" cy="259.40" r="0.55" fill="#555"/>
<circle cx="150.40" cy="264.60" r="0.55" fill="#555"/>
<circle cx="150.40" cy="268.20" r="0.85" fill="#222"/>
<line x1="150.40" y1="289.50" x2="150.40" y2="290.60" stroke="#1e1e1e" stroke-width="1.6" stroke-dasharray="1.0 0.45" stroke-opacity="0.92"/>
<rect x="145.85" y="277.00" width="9.10" height="5.00" fill="#f3961c" />
<rect x="145.85" y="278.40" width="9.10" height="1.40" fill="#3a1604" />
<line x1="161.60" y1="327.50" x2="161.60" y2="330.40" stroke="#1e1e1e" stroke-width="0.8"/>
<text x="161.60" y="339.40" font-size="5.9" text-anchor="middle" fill="#505050" stroke="#505050" font-weight="normal" >l</text>
<line x1="161.60" y1="263.80" x2="161.60" y2="274.90" stroke="#8a8a8a" stroke-width="0.45" stroke-dasharray="0.6 0.9"/>
<line x1="161.60" y1="282.80" x2="161.60" y2="292.90" stroke="#8a8a8a" stroke-width="0.45" stroke-dasharray="0.6 0.9"/>
<line x1="160.00" y1="263.80" x2="163.20" y2="263.80" stroke="#777" stroke-width="0.5"/>
<line x1="160.00" y1="292.90" x2="163.20" y2="292.90" stroke="#777" stroke-width="0.5"/>
<circle cx="161.60" cy="252.30" r="0.55" fill="#555"/>
<circle cx="161.60" cy="254.40" r="0.55" fill="#555"/>
<circle cx="161.60" cy="261.50" r="0.85" fill="#222"/>
<rect x="157.05" y="274.90" width="9.10" height="7.90" fill="#f3961c" />
<rect x="157.05" y="278.00" width="9.10" height="1.40" fill="#3a1604" />
<line x1="172.60" y1="327.50" x2="172.60" y2="330.40" stroke="#1e1e1e" stroke-width="0.8"/>
<text x="172.60" y="339.40" font-size="5.9" text-anchor="middle" fill="#505050" stroke="#505050" font-weight="normal" >h</text>
<line x1="172.60" y1="270.80" x2="172.60" y2="279.60" stroke="#8a8a8a" stroke-width="0.45" stroke-dasharray="0.6 0.9"/>
<line x1="172.60" y1="284.40" x2="172.60" y2="293.50" stroke="#8a8a8a" stroke-width="0.45" stroke-dasharray="0.6 0.9"/>
<line x1="171.00" y1="270.80" x2="174.20" y2="270.80" stroke="#777" stroke-width="0.5"/>
<line x1="171.00" y1="293.50" x2="174.20" y2="293.50" stroke="#777" stroke-width="0.5"/>
<circle cx="172.60" cy="254.10" r="0.55" fill="#555"/>
<circle cx="172.60" cy="264.60" r="0.55" fill="#555"/>
<circle cx="172.60" cy="268.20" r="0.85" fill="#222"/>
<rect x="168.05" y="279.60" width="9.10" height="4.80" fill="#1b416f" />
<rect x="168.05" y="281.60" width="9.10" height="1.40" fill="#0a1a38" />
<line x1="183.70" y1="327.50" x2="183.70" y2="330.40" stroke="#1e1e1e" stroke-width="0.8"/>
<text x="183.70" y="339.40" font-size="5.9" text-anchor="middle" fill="#505050" stroke="#505050" font-weight="normal" >m</text>
<line x1="183.70" y1="272.60" x2="183.70" y2="278.70" stroke="#8a8a8a" stroke-width="0.45" stroke-dasharray="0.6 0.9"/>
<line x1="183.70" y1="283.70" x2="183.70" y2="290.30" stroke="#8a8a8a" stroke-width="0.45" stroke-dasharray="0.6 0.9"/>
<line x1="182.10" y1="272.60" x2="185.30" y2="272.60" stroke="#777" stroke-width="0.5"/>
<line x1="182.10" y1="290.30" x2="185.30" y2="290.30" stroke="#777" stroke-width="0.5"/>
<circle cx="183.70" cy="266.00" r="0.55" fill="#555"/>
<circle cx="183.70" cy="267.30" r="0.55" fill="#555"/>
<circle cx="183.70" cy="295.80" r="0.55" fill="#555"/>
<rect x="179.15" y="278.70" width="9.10" height="5.00" fill="#1b416f" />
<rect x="179.15" y="280.80" width="9.10" height="1.40" fill="#0a1a38" />
<line x1="194.40" y1="327.50" x2="194.40" y2="330.40" stroke="#1e1e1e" stroke-width="0.8"/>
<text x="194.40" y="339.40" font-size="5.9" text-anchor="middle" fill="#505050" stroke="#505050" font-weight="normal" >l</text>
<line x1="194.40" y1="274.30" x2="194.40" y2="277.50" stroke="#8a8a8a" stroke-width="0.45" stroke-dasharray="0.6 0.9"/>
<line x1="194.40" y1="281.70" x2="194.40" y2="287.30" stroke="#8a8a8a" stroke-width="0.45" stroke-dasharray="0.6 0.9"/>
<line x1="192.80" y1="274.30" x2="196.00" y2="274.30" stroke="#777" stroke-width="0.5"/>
<line x1="192.80" y1="287.30" x2="196.00" y2="287.30" stroke="#777" stroke-width="0.5"/>
<circle cx="194.40" cy="261.10" r="0.55" fill="#555"/>
<circle cx="194.40" cy="266.40" r="0.55" fill="#555"/>
<circle cx="194.40" cy="292.90" r="0.55" fill="#555"/>
<circle cx="194.40" cy="269.00" r="0.85" fill="#222"/>
<circle cx="194.40" cy="270.80" r="0.85" fill="#222"/>
<line x1="194.40" y1="287.30" x2="194.40" y2="289.50" stroke="#1e1e1e" stroke-width="1.6" stroke-dasharray="1.0 0.45" stroke-opacity="0.92"/>
<rect x="189.85" y="277.50" width="9.10" height="4.20" fill="#1b416f" />
<rect x="189.85" y="278.90" width="9.10" height="1.40" fill="#0a1a38" />
<rect x="131.70" y="227.80" width="71.30" height="99.70" fill="none" stroke="#1e1e1e" stroke-width="1.15"/>
<text x="272.30" y="222.70" font-size="7.9" text-anchor="middle" fill="#1a1a1a" stroke="#1a1a1a" font-weight="normal" >BRD4</text>
<text x="0" y="0" font-size="6.4" text-anchor="middle" fill="#2a2a2a" stroke="#2a2a2a" transform="translate(217.90,278.40) rotate(-90)" textLength="54.3" lengthAdjust="spacingAndGlyphs">log2 FC in ChIP signal</text>
<line x1="232.70" y1="238.30" x2="236.30" y2="238.30" stroke="#1e1e1e" stroke-width="0.8"/>
<text x="230.20" y="240.38" font-size="5.8" text-anchor="end" fill="#333" stroke="#333" font-weight="normal" >6</text>
<line x1="232.70" y1="251.40" x2="236.30" y2="251.40" stroke="#1e1e1e" stroke-width="0.8"/>
<text x="230.20" y="253.48" font-size="5.8" text-anchor="end" fill="#333" stroke="#333" font-weight="normal" >4</text>
<line x1="232.70" y1="264.50" x2="236.30" y2="264.50" stroke="#1e1e1e" stroke-width="0.8"/>
<text x="230.20" y="266.58" font-size="5.8" text-anchor="end" fill="#333" stroke="#333" font-weight="normal" >2</text>
<line x1="232.70" y1="277.60" x2="236.30" y2="277.60" stroke="#1e1e1e" stroke-width="0.8"/>
<text x="230.20" y="279.68" font-size="5.8" text-anchor="end" fill="#333" stroke="#333" font-weight="normal" >0</text>
<line x1="232.70" y1="290.70" x2="236.30" y2="290.70" stroke="#1e1e1e" stroke-width="0.8"/>
<text x="230.20" y="292.78" font-size="5.8" text-anchor="end" fill="#333" stroke="#333" font-weight="normal" >−2</text>
<line x1="232.70" y1="303.80" x2="236.30" y2="303.80" stroke="#1e1e1e" stroke-width="0.8"/>
<text x="230.20" y="305.88" font-size="5.8" text-anchor="end" fill="#333" stroke="#333" font-weight="normal" >−4</text>
<line x1="232.70" y1="316.90" x2="236.30" y2="316.90" stroke="#1e1e1e" stroke-width="0.8"/>
<text x="230.20" y="318.98" font-size="5.8" text-anchor="end" fill="#333" stroke="#333" font-weight="normal" >−6</text>
<line x1="236.30" y1="277.60" x2="308.20" y2="277.60" stroke="#ef8f86" stroke-width="0.8"/>
<line x1="244.40" y1="327.50" x2="244.40" y2="330.40" stroke="#1e1e1e" stroke-width="0.8"/>
<text x="244.40" y="339.40" font-size="5.9" text-anchor="middle" fill="#505050" stroke="#505050" font-weight="normal" >h</text>
<line x1="244.40" y1="257.70" x2="244.40" y2="270.60" stroke="#8a8a8a" stroke-width="0.45" stroke-dasharray="0.6 0.9"/>
<line x1="244.40" y1="280.50" x2="244.40" y2="293.20" stroke="#8a8a8a" stroke-width="0.45" stroke-dasharray="0.6 0.9"/>
<line x1="242.80" y1="257.70" x2="246.00" y2="257.70" stroke="#777" stroke-width="0.5"/>
<line x1="242.80" y1="293.20" x2="246.00" y2="293.20" stroke="#777" stroke-width="0.5"/>
<circle cx="244.40" cy="234.50" r="0.55" fill="#555"/>
<circle cx="244.40" cy="239.00" r="0.55" fill="#555"/>
<circle cx="244.40" cy="242.20" r="0.55" fill="#555"/>
<circle cx="244.40" cy="298.30" r="0.55" fill="#555"/>
<circle cx="244.40" cy="301.30" r="0.55" fill="#555"/>
<line x1="244.40" y1="250.60" x2="244.40" y2="253.80" stroke="#1e1e1e" stroke-width="1.6" stroke-dasharray="1.0 0.45" stroke-opacity="0.92"/>
<rect x="239.85" y="270.60" width="9.10" height="9.90" fill="#f3961c" />
<rect x="239.85" y="274.50" width="9.10" height="1.40" fill="#3a1604" />
<line x1="255.60" y1="327.50" x2="255.60" y2="330.40" stroke="#1e1e1e" stroke-width="0.8"/>
<text x="255.60" y="339.40" font-size="5.9" text-anchor="middle" fill="#505050" stroke="#505050" font-weight="normal" >m</text>
<line x1="255.60" y1="254.50" x2="255.60" y2="268.10" stroke="#8a8a8a" stroke-width="0.45" stroke-dasharray="0.6 0.9"/>
<line x1="255.60" y1="281.70" x2="255.60" y2="299.10" stroke="#8a8a8a" stroke-width="0.45" stroke-dasharray="0.6 0.9"/>
<line x1="254.00" y1="254.50" x2="257.20" y2="254.50" stroke="#777" stroke-width="0.5"/>
<line x1="254.00" y1="299.10" x2="257.20" y2="299.10" stroke="#777" stroke-width="0.5"/>
<circle cx="255.60" cy="241.50" r="0.55" fill="#555"/>
<circle cx="255.60" cy="244.10" r="0.55" fill="#555"/>
<circle cx="255.60" cy="310.00" r="0.55" fill="#555"/>
<circle cx="255.60" cy="313.00" r="0.55" fill="#555"/>
<circle cx="255.60" cy="248.00" r="0.85" fill="#222"/>
<circle cx="255.60" cy="307.10" r="0.85" fill="#222"/>
<line x1="255.60" y1="234.50" x2="255.60" y2="239.60" stroke="#1e1e1e" stroke-width="1.6" stroke-dasharray="1.0 0.45" stroke-opacity="0.92"/>
<line x1="255.60" y1="306.40" x2="255.60" y2="307.50" stroke="#1e1e1e" stroke-width="1.6" stroke-dasharray="1.0 0.45" stroke-opacity="0.92"/>
<rect x="251.05" y="268.10" width="9.10" height="13.60" fill="#f3961c" />
<rect x="251.05" y="275.70" width="9.10" height="1.40" fill="#3a1604" />
<line x1="266.80" y1="327.50" x2="266.80" y2="330.40" stroke="#1e1e1e" stroke-width="0.8"/>
<text x="266.80" y="339.40" font-size="5.9" text-anchor="middle" fill="#505050" stroke="#505050" font-weight="normal" >l</text>
<line x1="266.80" y1="259.00" x2="266.80" y2="272.00" stroke="#8a8a8a" stroke-width="0.45" stroke-dasharray="0.6 0.9"/>
<line x1="266.80" y1="283.70" x2="266.80" y2="298.00" stroke="#8a8a8a" stroke-width="0.45" stroke-dasharray="0.6 0.9"/>
<line x1="265.20" y1="259.00" x2="268.40" y2="259.00" stroke="#777" stroke-width="0.5"/>
<line x1="265.20" y1="298.00" x2="268.40" y2="298.00" stroke="#777" stroke-width="0.5"/>
<circle cx="266.80" cy="231.90" r="0.55" fill="#555"/>
<circle cx="266.80" cy="237.70" r="0.55" fill="#555"/>
<circle cx="266.80" cy="240.90" r="0.55" fill="#555"/>
<circle cx="266.80" cy="309.30" r="0.55" fill="#555"/>
<circle cx="266.80" cy="313.00" r="0.55" fill="#555"/>
<circle cx="266.80" cy="314.50" r="0.55" fill="#555"/>
<circle cx="266.80" cy="323.70" r="0.55" fill="#555"/>
<line x1="266.80" y1="242.80" x2="266.80" y2="253.20" stroke="#1e1e1e" stroke-width="1.6" stroke-dasharray="1.0 0.45" stroke-opacity="0.92"/>
<line x1="266.80" y1="302.00" x2="266.80" y2="305.00" stroke="#1e1e1e" stroke-width="1.6" stroke-dasharray="1.0 0.45" stroke-opacity="0.92"/>
<rect x="262.25" y="272.00" width="9.10" height="11.70" fill="#f3961c" />
<rect x="262.25" y="278.00" width="9.10" height="1.40" fill="#3a1604" />
<line x1="277.80" y1="327.50" x2="277.80" y2="330.40" stroke="#1e1e1e" stroke-width="0.8"/>
<text x="277.80" y="339.40" font-size="5.9" text-anchor="middle" fill="#505050" stroke="#505050" font-weight="normal" >h</text>
<line x1="277.80" y1="264.00" x2="277.80" y2="275.20" stroke="#8a8a8a" stroke-width="0.45" stroke-dasharray="0.6 0.9"/>
<line x1="277.80" y1="283.50" x2="277.80" y2="294.40" stroke="#8a8a8a" stroke-width="0.45" stroke-dasharray="0.6 0.9"/>
<line x1="276.20" y1="264.00" x2="279.40" y2="264.00" stroke="#777" stroke-width="0.5"/>
<line x1="276.20" y1="294.40" x2="279.40" y2="294.40" stroke="#777" stroke-width="0.5"/>
<circle cx="277.80" cy="230.60" r="0.55" fill="#555"/>
<circle cx="277.80" cy="252.50" r="0.55" fill="#555"/>
<circle cx="277.80" cy="299.80" r="0.55" fill="#555"/>
<line x1="277.80" y1="255.80" x2="277.80" y2="262.60" stroke="#1e1e1e" stroke-width="1.6" stroke-dasharray="1.0 0.45" stroke-opacity="0.92"/>
<rect x="273.25" y="275.20" width="9.10" height="8.30" fill="#1b416f" />
<rect x="273.25" y="277.50" width="9.10" height="1.40" fill="#0a1a38" />
<line x1="288.80" y1="327.50" x2="288.80" y2="330.40" stroke="#1e1e1e" stroke-width="0.8"/>
<text x="288.80" y="339.40" font-size="5.9" text-anchor="middle" fill="#505050" stroke="#505050" font-weight="normal" >m</text>
<line x1="288.80" y1="261.90" x2="288.80" y2="275.90" stroke="#8a8a8a" stroke-width="0.45" stroke-dasharray="0.6 0.9"/>
<line x1="288.80" y1="285.60" x2="288.80" y2="298.30" stroke="#8a8a8a" stroke-width="0.45" stroke-dasharray="0.6 0.9"/>
<line x1="287.20" y1="261.90" x2="290.40" y2="261.90" stroke="#777" stroke-width="0.5"/>
<line x1="287.20" y1="298.30" x2="290.40" y2="298.30" stroke="#777" stroke-width="0.5"/>
<circle cx="288.80" cy="248.40" r="0.55" fill="#555"/>
<circle cx="288.80" cy="250.60" r="0.55" fill="#555"/>
<circle cx="288.80" cy="253.60" r="0.55" fill="#555"/>
<circle cx="288.80" cy="266.10" r="0.55" fill="#555"/>
<circle cx="288.80" cy="270.00" r="0.55" fill="#555"/>
<circle cx="288.80" cy="309.80" r="0.55" fill="#555"/>
<circle cx="288.80" cy="259.00" r="0.85" fill="#222"/>
<rect x="284.25" y="275.90" width="9.10" height="9.70" fill="#1b416f" />
<rect x="284.25" y="280.10" width="9.10" height="1.40" fill="#0a1a38" />
<line x1="299.80" y1="327.50" x2="299.80" y2="330.40" stroke="#1e1e1e" stroke-width="0.8"/>
<text x="299.80" y="339.40" font-size="5.9" text-anchor="middle" fill="#505050" stroke="#505050" font-weight="normal" >l</text>
<line x1="299.80" y1="269.30" x2="299.80" y2="276.90" stroke="#8a8a8a" stroke-width="0.45" stroke-dasharray="0.6 0.9"/>
<line x1="299.80" y1="281.70" x2="299.80" y2="287.30" stroke="#8a8a8a" stroke-width="0.45" stroke-dasharray="0.6 0.9"/>
<line x1="298.20" y1="269.30" x2="301.40" y2="269.30" stroke="#777" stroke-width="0.5"/>
<line x1="298.20" y1="287.30" x2="301.40" y2="287.30" stroke="#777" stroke-width="0.5"/>
<circle cx="299.80" cy="253.80" r="0.55" fill="#555"/>
<circle cx="299.80" cy="257.00" r="0.55" fill="#555"/>
<circle cx="299.80" cy="266.50" r="0.55" fill="#555"/>
<circle cx="299.80" cy="313.70" r="0.55" fill="#555"/>
<line x1="299.80" y1="259.00" x2="299.80" y2="261.90" stroke="#1e1e1e" stroke-width="1.6" stroke-dasharray="1.0 0.45" stroke-opacity="0.92"/>
<line x1="299.80" y1="290.30" x2="299.80" y2="296.10" stroke="#1e1e1e" stroke-width="1.6" stroke-dasharray="1.0 0.45" stroke-opacity="0.92"/>
<rect x="295.25" y="276.90" width="9.10" height="4.80" fill="#1b416f" />
<rect x="295.25" y="279.20" width="9.10" height="1.40" fill="#0a1a38" />
<rect x="236.30" y="227.60" width="71.90" height="99.90" fill="none" stroke="#1e1e1e" stroke-width="1.15"/>
<text x="378.00" y="222.70" font-size="7.9" text-anchor="middle" fill="#1a1a1a" stroke="#1a1a1a" font-weight="normal" >H3K27Ac</text>
<text x="0" y="0" font-size="6.4" text-anchor="middle" fill="#2a2a2a" stroke="#2a2a2a" transform="translate(324.30,278.40) rotate(-90)" textLength="54.3" lengthAdjust="spacingAndGlyphs">log2 FC in ChIP signal</text>
<line x1="339.10" y1="238.30" x2="342.70" y2="238.30" stroke="#1e1e1e" stroke-width="0.8"/>
<text x="336.60" y="240.38" font-size="5.8" text-anchor="end" fill="#333" stroke="#333" font-weight="normal" >6</text>
<line x1="339.10" y1="251.40" x2="342.70" y2="251.40" stroke="#1e1e1e" stroke-width="0.8"/>
<text x="336.60" y="253.48" font-size="5.8" text-anchor="end" fill="#333" stroke="#333" font-weight="normal" >4</text>
<line x1="339.10" y1="264.50" x2="342.70" y2="264.50" stroke="#1e1e1e" stroke-width="0.8"/>
<text x="336.60" y="266.58" font-size="5.8" text-anchor="end" fill="#333" stroke="#333" font-weight="normal" >2</text>
<line x1="339.10" y1="277.60" x2="342.70" y2="277.60" stroke="#1e1e1e" stroke-width="0.8"/>
<text x="336.60" y="279.68" font-size="5.8" text-anchor="end" fill="#333" stroke="#333" font-weight="normal" >0</text>
<line x1="339.10" y1="290.70" x2="342.70" y2="290.70" stroke="#1e1e1e" stroke-width="0.8"/>
<text x="336.60" y="292.78" font-size="5.8" text-anchor="end" fill="#333" stroke="#333" font-weight="normal" >−2</text>
<line x1="339.10" y1="303.80" x2="342.70" y2="303.80" stroke="#1e1e1e" stroke-width="0.8"/>
<text x="336.60" y="305.88" font-size="5.8" text-anchor="end" fill="#333" stroke="#333" font-weight="normal" >−4</text>
<line x1="339.10" y1="316.90" x2="342.70" y2="316.90" stroke="#1e1e1e" stroke-width="0.8"/>
<text x="336.60" y="318.98" font-size="5.8" text-anchor="end" fill="#333" stroke="#333" font-weight="normal" >−6</text>
<line x1="342.70" y1="277.60" x2="412.90" y2="277.60" stroke="#ef8f86" stroke-width="0.8"/>
<line x1="350.60" y1="327.50" x2="350.60" y2="330.40" stroke="#1e1e1e" stroke-width="0.8"/>
<text x="350.60" y="339.40" font-size="5.9" text-anchor="middle" fill="#505050" stroke="#505050" font-weight="normal" >h</text>
<line x1="350.60" y1="262.80" x2="350.60" y2="270.60" stroke="#8a8a8a" stroke-width="0.45" stroke-dasharray="0.6 0.9"/>
<line x1="350.60" y1="279.00" x2="350.60" y2="288.80" stroke="#8a8a8a" stroke-width="0.45" stroke-dasharray="0.6 0.9"/>
<line x1="349.00" y1="262.80" x2="352.20" y2="262.80" stroke="#777" stroke-width="0.5"/>
<line x1="349.00" y1="288.80" x2="352.20" y2="288.80" stroke="#777" stroke-width="0.5"/>
<circle cx="350.60" cy="252.50" r="0.55" fill="#555"/>
<circle cx="350.60" cy="257.40" r="0.55" fill="#555"/>
<circle cx="350.60" cy="303.20" r="0.55" fill="#555"/>
<circle cx="350.60" cy="298.30" r="0.85" fill="#222"/>
<rect x="346.05" y="270.60" width="9.10" height="8.40" fill="#f3961c" />
<rect x="346.05" y="274.00" width="9.10" height="1.40" fill="#3a1604" />
<line x1="361.50" y1="327.50" x2="361.50" y2="330.40" stroke="#1e1e1e" stroke-width="0.8"/>
<text x="361.50" y="339.40" font-size="5.9" text-anchor="middle" fill="#505050" stroke="#505050" font-weight="normal" >m</text>
<line x1="361.50" y1="261.50" x2="361.50" y2="269.90" stroke="#8a8a8a" stroke-width="0.45" stroke-dasharray="0.6 0.9"/>
<line x1="361.50" y1="279.00" x2="361.50" y2="289.50" stroke="#8a8a8a" stroke-width="0.45" stroke-dasharray="0.6 0.9"/>
<line x1="359.90" y1="261.50" x2="363.10" y2="261.50" stroke="#777" stroke-width="0.5"/>
<line x1="359.90" y1="289.50" x2="363.10" y2="289.50" stroke="#777" stroke-width="0.5"/>
<circle cx="361.50" cy="230.30" r="0.55" fill="#555"/>
<circle cx="361.50" cy="310.80" r="0.55" fill="#555"/>
<circle cx="361.50" cy="316.70" r="0.55" fill="#555"/>
<circle cx="361.50" cy="321.80" r="0.55" fill="#555"/>
<circle cx="361.50" cy="299.10" r="0.85" fill="#222"/>
<circle cx="361.50" cy="304.90" r="0.85" fill="#222"/>
<line x1="361.50" y1="244.10" x2="361.50" y2="246.00" stroke="#1e1e1e" stroke-width="1.6" stroke-dasharray="1.0 0.45" stroke-opacity="0.92"/>
<line x1="361.50" y1="250.60" x2="361.50" y2="251.90" stroke="#1e1e1e" stroke-width="1.6" stroke-dasharray="1.0 0.45" stroke-opacity="0.92"/>
<line x1="361.50" y1="255.10" x2="361.50" y2="258.30" stroke="#1e1e1e" stroke-width="1.6" stroke-dasharray="1.0 0.45" stroke-opacity="0.92"/>
<line x1="361.50" y1="290.60" x2="361.50" y2="299.00" stroke="#1e1e1e" stroke-width="1.6" stroke-dasharray="1.0 0.45" stroke-opacity="0.92"/>
<rect x="356.95" y="269.90" width="9.10" height="9.10" fill="#f3961c" />
<rect x="356.95" y="273.40" width="9.10" height="1.40" fill="#3a1604" />
<line x1="372.70" y1="327.50" x2="372.70" y2="330.40" stroke="#1e1e1e" stroke-width="0.8"/>
<text x="372.70" y="339.40" font-size="5.9" text-anchor="middle" fill="#505050" stroke="#505050" font-weight="normal" >l</text>
<line x1="372.70" y1="265.40" x2="372.70" y2="272.90" stroke="#8a8a8a" stroke-width="0.45" stroke-dasharray="0.6 0.9"/>
<line x1="372.70" y1="279.90" x2="372.70" y2="289.50" stroke="#8a8a8a" stroke-width="0.45" stroke-dasharray="0.6 0.9"/>
<line x1="371.10" y1="265.40" x2="374.30" y2="265.40" stroke="#777" stroke-width="0.5"/>
<line x1="371.10" y1="289.50" x2="374.30" y2="289.50" stroke="#777" stroke-width="0.5"/>
<circle cx="372.70" cy="235.70" r="0.55" fill="#555"/>
<circle cx="372.70" cy="244.80" r="0.55" fill="#555"/>
<circle cx="372.70" cy="299.10" r="0.55" fill="#555"/>
<circle cx="372.70" cy="302.00" r="0.55" fill="#555"/>
<circle cx="372.70" cy="305.70" r="0.55" fill="#555"/>
<circle cx="372.70" cy="310.80" r="0.55" fill="#555"/>
<circle cx="372.70" cy="313.70" r="0.55" fill="#555"/>
<circle cx="372.70" cy="318.10" r="0.55" fill="#555"/>
<line x1="372.70" y1="247.40" x2="372.70" y2="262.80" stroke="#1e1e1e" stroke-width="1.6" stroke-dasharray="1.0 0.45" stroke-opacity="0.92"/>
<line x1="372.70" y1="290.30" x2="372.70" y2="301.50" stroke="#1e1e1e" stroke-width="1.6" stroke-dasharray="1.0 0.45" stroke-opacity="0.92"/>
<rect x="368.15" y="272.90" width="9.10" height="7.00" fill="#f3961c" />
<rect x="368.15" y="276.60" width="9.10" height="1.40" fill="#3a1604" />
<line x1="383.80" y1="327.50" x2="383.80" y2="330.40" stroke="#1e1e1e" stroke-width="0.8"/>
<text x="383.80" y="339.40" font-size="5.9" text-anchor="middle" fill="#505050" stroke="#505050" font-weight="normal" >h</text>
<line x1="383.80" y1="268.70" x2="383.80" y2="274.10" stroke="#8a8a8a" stroke-width="0.45" stroke-dasharray="0.6 0.9"/>
<line x1="383.80" y1="279.00" x2="383.80" y2="286.60" stroke="#8a8a8a" stroke-width="0.45" stroke-dasharray="0.6 0.9"/>
<line x1="382.20" y1="268.70" x2="385.40" y2="268.70" stroke="#777" stroke-width="0.5"/>
<line x1="382.20" y1="286.60" x2="385.40" y2="286.60" stroke="#777" stroke-width="0.5"/>
<circle cx="383.80" cy="238.10" r="0.55" fill="#555"/>
<circle cx="383.80" cy="264.80" r="0.85" fill="#222"/>
<rect x="379.25" y="274.10" width="9.10" height="4.90" fill="#1b416f" />
<rect x="379.25" y="275.80" width="9.10" height="1.40" fill="#0a1a38" />
<line x1="394.80" y1="327.50" x2="394.80" y2="330.40" stroke="#1e1e1e" stroke-width="0.8"/>
<text x="394.80" y="339.40" font-size="5.9" text-anchor="middle" fill="#505050" stroke="#505050" font-weight="normal" >m</text>
<line x1="394.80" y1="268.30" x2="394.80" y2="275.50" stroke="#8a8a8a" stroke-width="0.45" stroke-dasharray="0.6 0.9"/>
<line x1="394.80" y1="280.50" x2="394.80" y2="286.60" stroke="#8a8a8a" stroke-width="0.45" stroke-dasharray="0.6 0.9"/>
<line x1="393.20" y1="268.30" x2="396.40" y2="268.30" stroke="#777" stroke-width="0.5"/>
<line x1="393.20" y1="286.60" x2="396.40" y2="286.60" stroke="#777" stroke-width="0.5"/>
<circle cx="394.80" cy="303.50" r="0.55" fill="#555"/>
<circle cx="394.80" cy="313.00" r="0.55" fill="#555"/>
<circle cx="394.80" cy="262.90" r="0.85" fill="#222"/>
<rect x="390.25" y="275.50" width="9.10" height="5.00" fill="#1b416f" />
<rect x="390.25" y="277.30" width="9.10" height="1.40" fill="#0a1a38" />
<line x1="405.60" y1="327.50" x2="405.60" y2="330.40" stroke="#1e1e1e" stroke-width="0.8"/>
<text x="405.60" y="339.40" font-size="5.9" text-anchor="middle" fill="#505050" stroke="#505050" font-weight="normal" >l</text>
<line x1="405.60" y1="269.60" x2="405.60" y2="275.90" stroke="#8a8a8a" stroke-width="0.45" stroke-dasharray="0.6 0.9"/>
<line x1="405.60" y1="280.50" x2="405.60" y2="286.60" stroke="#8a8a8a" stroke-width="0.45" stroke-dasharray="0.6 0.9"/>
<line x1="404.00" y1="269.60" x2="407.20" y2="269.60" stroke="#777" stroke-width="0.5"/>
<line x1="404.00" y1="286.60" x2="407.20" y2="286.60" stroke="#777" stroke-width="0.5"/>
<circle cx="405.60" cy="264.80" r="0.55" fill="#555"/>
<rect x="401.05" y="275.90" width="9.10" height="4.60" fill="#1b416f" />
<rect x="401.05" y="277.50" width="9.10" height="1.40" fill="#0a1a38" />
<rect x="342.70" y="227.70" width="70.20" height="99.80" fill="none" stroke="#1e1e1e" stroke-width="1.15"/>
<text x="483.60" y="222.70" font-size="7.9" text-anchor="middle" fill="#1a1a1a" stroke="#1a1a1a" font-weight="normal" >Pol2</text>
<text x="0" y="0" font-size="6.4" text-anchor="middle" fill="#2a2a2a" stroke="#2a2a2a" transform="translate(429.70,278.40) rotate(-90)" textLength="54.3" lengthAdjust="spacingAndGlyphs">log2 FC in ChIP signal</text>
<line x1="444.50" y1="238.30" x2="448.10" y2="238.30" stroke="#1e1e1e" stroke-width="0.8"/>
<text x="442.00" y="240.38" font-size="5.8" text-anchor="end" fill="#333" stroke="#333" font-weight="normal" >6</text>
<line x1="444.50" y1="251.40" x2="448.10" y2="251.40" stroke="#1e1e1e" stroke-width="0.8"/>
<text x="442.00" y="253.48" font-size="5.8" text-anchor="end" fill="#333" stroke="#333" font-weight="normal" >4</text>
<line x1="444.50" y1="264.50" x2="448.10" y2="264.50" stroke="#1e1e1e" stroke-width="0.8"/>
<text x="442.00" y="266.58" font-size="5.8" text-anchor="end" fill="#333" stroke="#333" font-weight="normal" >2</text>
<line x1="444.50" y1="277.60" x2="448.10" y2="277.60" stroke="#1e1e1e" stroke-width="0.8"/>
<text x="442.00" y="279.68" font-size="5.8" text-anchor="end" fill="#333" stroke="#333" font-weight="normal" >0</text>
<line x1="444.50" y1="290.70" x2="448.10" y2="290.70" stroke="#1e1e1e" stroke-width="0.8"/>
<text x="442.00" y="292.78" font-size="5.8" text-anchor="end" fill="#333" stroke="#333" font-weight="normal" >−2</text>
<line x1="444.50" y1="303.80" x2="448.10" y2="303.80" stroke="#1e1e1e" stroke-width="0.8"/>
<text x="442.00" y="305.88" font-size="5.8" text-anchor="end" fill="#333" stroke="#333" font-weight="normal" >−4</text>
<line x1="444.50" y1="316.90" x2="448.10" y2="316.90" stroke="#1e1e1e" stroke-width="0.8"/>
<text x="442.00" y="318.98" font-size="5.8" text-anchor="end" fill="#333" stroke="#333" font-weight="normal" >−6</text>
<line x1="448.10" y1="277.60" x2="518.60" y2="277.60" stroke="#ef8f86" stroke-width="0.8"/>
<line x1="456.40" y1="327.50" x2="456.40" y2="330.40" stroke="#1e1e1e" stroke-width="0.8"/>
<text x="456.40" y="339.40" font-size="5.9" text-anchor="middle" fill="#505050" stroke="#505050" font-weight="normal" >h</text>
<line x1="456.40" y1="264.40" x2="456.40" y2="270.60" stroke="#8a8a8a" stroke-width="0.45" stroke-dasharray="0.6 0.9"/>
<line x1="456.40" y1="275.90" x2="456.40" y2="281.80" stroke="#8a8a8a" stroke-width="0.45" stroke-dasharray="0.6 0.9"/>
<line x1="454.80" y1="264.40" x2="458.00" y2="264.40" stroke="#777" stroke-width="0.5"/>
<line x1="454.80" y1="281.80" x2="458.00" y2="281.80" stroke="#777" stroke-width="0.5"/>
<line x1="456.40" y1="260.30" x2="456.40" y2="261.30" stroke="#1e1e1e" stroke-width="1.6" stroke-dasharray="1.0 0.45" stroke-opacity="0.92"/>
<rect x="451.85" y="270.60" width="9.10" height="5.30" fill="#f3961c" />
<rect x="451.85" y="272.70" width="9.10" height="1.40" fill="#3a1604" />
<line x1="467.50" y1="327.50" x2="467.50" y2="330.40" stroke="#1e1e1e" stroke-width="0.8"/>
<text x="467.50" y="339.40" font-size="5.9" text-anchor="middle" fill="#505050" stroke="#505050" font-weight="normal" >m</text>
<line x1="467.50" y1="260.50" x2="467.50" y2="269.90" stroke="#8a8a8a" stroke-width="0.45" stroke-dasharray="0.6 0.9"/>
<line x1="467.50" y1="275.90" x2="467.50" y2="285.60" stroke="#8a8a8a" stroke-width="0.45" stroke-dasharray="0.6 0.9"/>
<line x1="465.90" y1="260.50" x2="469.10" y2="260.50" stroke="#777" stroke-width="0.5"/>
<line x1="465.90" y1="285.60" x2="469.10" y2="285.60" stroke="#777" stroke-width="0.5"/>
<circle cx="467.50" cy="248.00" r="0.55" fill="#555"/>
<circle cx="467.50" cy="253.20" r="0.55" fill="#555"/>
<circle cx="467.50" cy="266.10" r="0.55" fill="#555"/>
<circle cx="467.50" cy="258.30" r="0.85" fill="#222"/>
<line x1="467.50" y1="239.30" x2="467.50" y2="241.30" stroke="#1e1e1e" stroke-width="1.6" stroke-dasharray="1.0 0.45" stroke-opacity="0.92"/>
<rect x="462.95" y="269.90" width="9.10" height="6.00" fill="#f3961c" />
<rect x="462.95" y="272.20" width="9.10" height="1.40" fill="#3a1604" />
<line x1="478.50" y1="327.50" x2="478.50" y2="330.40" stroke="#1e1e1e" stroke-width="0.8"/>
<text x="478.50" y="339.40" font-size="5.9" text-anchor="middle" fill="#505050" stroke="#505050" font-weight="normal" >l</text>
<line x1="478.50" y1="261.50" x2="478.50" y2="269.90" stroke="#8a8a8a" stroke-width="0.45" stroke-dasharray="0.6 0.9"/>
<line x1="478.50" y1="276.90" x2="478.50" y2="287.00" stroke="#8a8a8a" stroke-width="0.45" stroke-dasharray="0.6 0.9"/>
<line x1="476.90" y1="261.50" x2="480.10" y2="261.50" stroke="#777" stroke-width="0.5"/>
<line x1="476.90" y1="287.00" x2="480.10" y2="287.00" stroke="#777" stroke-width="0.5"/>
<circle cx="478.50" cy="230.30" r="0.55" fill="#555"/>
<circle cx="478.50" cy="266.10" r="0.55" fill="#555"/>
<circle cx="478.50" cy="291.40" r="0.55" fill="#555"/>
<circle cx="478.50" cy="292.90" r="0.55" fill="#555"/>
<circle cx="478.50" cy="296.90" r="0.55" fill="#555"/>
<line x1="478.50" y1="242.20" x2="478.50" y2="259.00" stroke="#1e1e1e" stroke-width="1.6" stroke-dasharray="1.0 0.45" stroke-opacity="0.92"/>
<rect x="473.95" y="269.90" width="9.10" height="7.00" fill="#f3961c" />
<rect x="473.95" y="273.10" width="9.10" height="1.40" fill="#3a1604" />
<line x1="489.60" y1="327.50" x2="489.60" y2="330.40" stroke="#1e1e1e" stroke-width="0.8"/>
<text x="489.60" y="339.40" font-size="5.9" text-anchor="middle" fill="#505050" stroke="#505050" font-weight="normal" >h</text>
<line x1="489.60" y1="268.40" x2="489.60" y2="275.90" stroke="#8a8a8a" stroke-width="0.45" stroke-dasharray="0.6 0.9"/>
<line x1="489.60" y1="281.50" x2="489.60" y2="289.10" stroke="#8a8a8a" stroke-width="0.45" stroke-dasharray="0.6 0.9"/>
<line x1="488.00" y1="268.40" x2="491.20" y2="268.40" stroke="#777" stroke-width="0.5"/>
<line x1="488.00" y1="289.10" x2="491.20" y2="289.10" stroke="#777" stroke-width="0.5"/>
<circle cx="489.60" cy="292.50" r="0.55" fill="#555"/>
<circle cx="489.60" cy="260.30" r="0.85" fill="#222"/>
<circle cx="489.60" cy="263.10" r="0.85" fill="#222"/>
<rect x="485.05" y="275.90" width="9.10" height="5.60" fill="#1b416f" />
<rect x="485.05" y="278.30" width="9.10" height="1.40" fill="#0a1a38" />
<line x1="500.60" y1="327.50" x2="500.60" y2="330.40" stroke="#1e1e1e" stroke-width="0.8"/>
<text x="500.60" y="339.40" font-size="5.9" text-anchor="middle" fill="#505050" stroke="#505050" font-weight="normal" >m</text>
<line x1="500.60" y1="268.30" x2="500.60" y2="275.90" stroke="#8a8a8a" stroke-width="0.45" stroke-dasharray="0.6 0.9"/>
<line x1="500.60" y1="281.50" x2="500.60" y2="287.00" stroke="#8a8a8a" stroke-width="0.45" stroke-dasharray="0.6 0.9"/>
<line x1="499.00" y1="268.30" x2="502.20" y2="268.30" stroke="#777" stroke-width="0.5"/>
<line x1="499.00" y1="287.00" x2="502.20" y2="287.00" stroke="#777" stroke-width="0.5"/>
<circle cx="500.60" cy="292.00" r="0.55" fill="#555"/>
<circle cx="500.60" cy="307.10" r="0.55" fill="#555"/>
<rect x="496.05" y="275.90" width="9.10" height="5.60" fill="#1b416f" />
<rect x="496.05" y="278.30" width="9.10" height="1.40" fill="#0a1a38" />
<line x1="511.40" y1="327.50" x2="511.40" y2="330.40" stroke="#1e1e1e" stroke-width="0.8"/>
<text x="511.40" y="339.40" font-size="5.9" text-anchor="middle" fill="#505050" stroke="#505050" font-weight="normal" >l</text>
<line x1="511.40" y1="270.40" x2="511.40" y2="277.80" stroke="#8a8a8a" stroke-width="0.45" stroke-dasharray="0.6 0.9"/>
<line x1="511.40" y1="284.40" x2="511.40" y2="292.00" stroke="#8a8a8a" stroke-width="0.45" stroke-dasharray="0.6 0.9"/>
<line x1="509.80" y1="270.40" x2="513.00" y2="270.40" stroke="#777" stroke-width="0.5"/>
<line x1="509.80" y1="292.00" x2="513.00" y2="292.00" stroke="#777" stroke-width="0.5"/>
<circle cx="511.40" cy="245.80" r="0.55" fill="#555"/>
<circle cx="511.40" cy="261.90" r="0.55" fill="#555"/>
<circle cx="511.40" cy="290.30" r="0.55" fill="#555"/>
<rect x="506.85" y="277.80" width="9.10" height="6.60" fill="#1b416f" />
<rect x="506.85" y="280.10" width="9.10" height="1.40" fill="#0a1a38" />
<rect x="448.10" y="227.70" width="70.50" height="99.80" fill="none" stroke="#1e1e1e" stroke-width="1.15"/>
</g>
</svg>
</body></html>
